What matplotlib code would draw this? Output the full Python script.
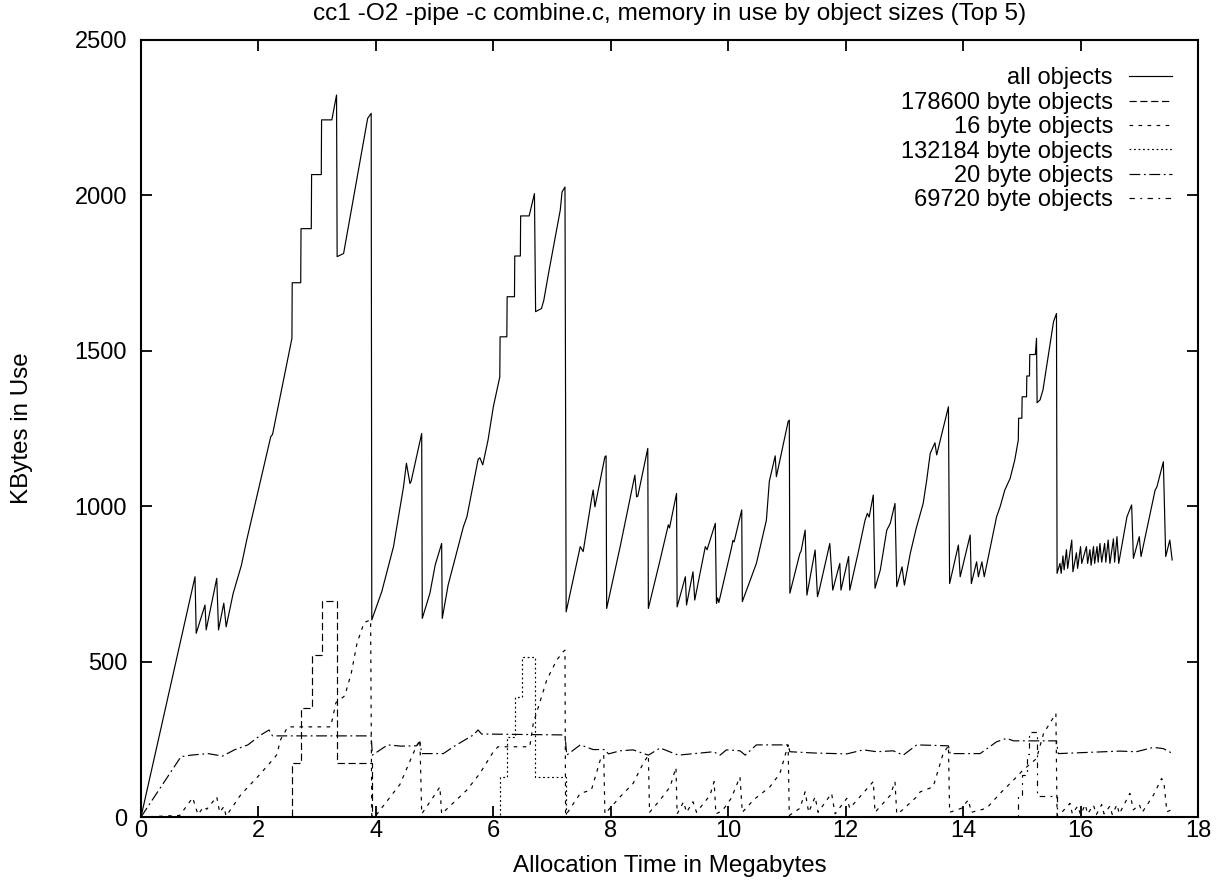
import matplotlib
matplotlib.use('Agg')
import matplotlib.pyplot as plt

plt.rcParams['font.family'] = ['Liberation Sans', 'DejaVu Sans']
plt.rcParams['lines.scale_dashes'] = False

# allocation time (MB) / KBytes in use
all_x = [0, 0.92, 0.94, 1.09, 1.11, 1.29, 1.32, 1.41, 1.45, 1.57, 1.71, 1.80, 2.21, 2.24, 2.57,
         2.575, 2.72, 2.725, 2.90, 2.905, 3.07, 3.075, 3.25, 3.33, 3.34, 3.45, 3.86, 3.92, 3.93,
         4.10, 4.30, 4.47, 4.52, 4.58, 4.60, 4.78, 4.79, 4.92, 5.01, 5.12, 5.13, 5.23, 5.49, 5.55,
         5.74, 5.77, 5.82, 5.91, 6.00, 6.11, 6.115, 6.23, 6.235, 6.36, 6.365, 6.46, 6.465, 6.61,
         6.70, 6.72, 6.82, 6.86, 6.94, 7.14, 7.17, 7.22, 7.24,
         7.48, 7.53, 7.67, 7.70, 7.73, 7.90, 7.92, 7.93, 8.16, 8.30, 8.41, 8.44, 8.46, 8.63, 8.64,
         8.84, 8.98, 9.00, 9.12, 9.13, 9.27, 9.29, 9.40, 9.43, 9.61, 9.64, 9.78, 9.80, 9.82, 9.84,
         10.06, 10.08, 10.10, 10.23, 10.24, 10.48, 10.65, 10.70, 10.80, 10.82, 11.02, 11.04, 11.05,
         11.22, 11.24, 11.31, 11.34, 11.48, 11.52, 11.55, 11.73, 11.78, 11.90, 11.92, 12.05, 12.07,
         12.21, 12.33, 12.37, 12.40, 12.47, 12.50, 12.59, 12.70, 12.76, 12.84, 12.87, 12.96, 13.00,
         13.10, 13.20, 13.32, 13.38, 13.44, 13.52, 13.55, 13.75, 13.77,
         13.92, 13.95, 14.12, 14.14, 14.23, 14.26, 14.32, 14.36, 14.57, 14.63, 14.71, 14.80, 14.88,
         14.94, 14.945, 15.00, 15.005, 15.08, 15.085, 15.13, 15.135, 15.23, 15.25, 15.26, 15.31,
         15.36, 15.54, 15.57, 15.59, 15.60,
         15.65, 15.67, 15.70, 15.72, 15.76, 15.78, 15.85, 15.87, 15.93, 15.95, 16.00, 16.02, 16.10,
         16.12, 16.16, 16.18, 16.22, 16.24, 16.28, 16.30, 16.33, 16.36, 16.41, 16.43, 16.47, 16.50,
         16.56, 16.58, 16.62, 16.65, 16.79, 16.87, 16.90, 17.00, 17.03, 17.15, 17.27, 17.30, 17.41,
         17.45, 17.52, 17.56]
all_y = [0, 773, 591, 682, 602, 768, 602, 688, 612, 720, 810, 891, 1224, 1231, 1540,
         1719, 1719, 1893, 1893, 2067, 2067, 2243, 2243, 2323, 1803, 1813, 2248, 2264, 634,
         725, 870, 1062, 1138, 1073, 1080, 1234, 639, 720, 811, 880, 639, 746, 934, 966,
         1150, 1156, 1133, 1213, 1320, 1416, 1545, 1545, 1674, 1674, 1805, 1805, 1934, 1934,
         2006, 1626, 1636, 1663, 1749, 1953, 2011, 2027, 660,
         870, 854, 1020, 1052, 998, 1159, 1162, 671, 870, 998, 1100, 1030, 1032, 1186, 671,
         827, 940, 930, 1041, 676, 773, 682, 789, 698, 870, 860, 945, 687, 705, 690,
         870, 890, 885, 988, 693, 816, 955, 1080, 1162, 1095, 1272, 1277, 720,
         848, 855, 923, 714, 859, 709, 730, 880, 730, 816, 730, 838, 730,
         848, 955, 977, 965, 1036, 736, 795, 923, 945, 1009, 741, 805, 746,
         848, 928, 1009, 1084, 1170, 1204, 1165, 1320, 751,
         875, 773, 907, 751, 821, 773, 821, 773, 966, 998, 1052, 1089, 1149,
         1213, 1283, 1283, 1352, 1352, 1419, 1419, 1488, 1488, 1540, 1333, 1342,
         1374, 1594, 1609, 1620, 784,
         816, 784, 840, 795, 860, 800, 891, 789, 850, 800, 870, 816, 870,
         816, 860, 810, 870, 816, 870, 820, 880, 820, 880, 820, 891, 816,
         895, 820, 902, 816, 966, 1004, 832, 902, 838, 945, 1052, 1062, 1143,
         838, 891, 827]

b178600_x = [0, 2.57, 2.57, 2.72, 2.72, 2.91, 2.91, 3.08, 3.08, 3.34, 3.34, 3.93, 3.93, 17.56]
b178600_y = [0, 0, 175, 175, 350, 350, 521, 521, 696, 696, 175, 175, 0, 0]

b16_x = [0, 0.66, 0.88, 0.97, 1.07, 1.12, 1.29, 1.34, 1.41, 1.45, 1.70, 1.99, 2.27, 2.31, 2.38,
         2.50, 3.23, 3.32, 3.47, 3.58, 3.68, 3.80, 3.91, 3.93, 4.00, 4.41, 4.66, 4.75, 4.78, 4.98,
         5.09, 5.12, 5.55, 5.77, 6.00, 6.08, 6.62, 6.68, 6.91, 7.08, 7.19, 7.22, 7.23, 7.48, 7.67,
         7.82, 7.88, 7.90, 8.16, 8.38, 8.55, 8.64, 8.66, 8.84, 9.01, 9.11, 9.13, 9.24, 9.29, 9.40,
         9.46, 9.69, 9.76, 9.79, 9.90, 10.05, 10.20, 10.24, 10.43, 10.71, 10.88, 11.02, 11.04,
         11.22, 11.31, 11.37, 11.48, 11.53, 11.76, 11.82, 12.02, 12.07, 12.44, 12.47, 12.50, 12.76,
         12.84, 12.87, 12.95, 13.21, 13.27, 13.49, 13.66, 13.75, 13.77, 13.97, 14.09, 14.14, 14.40,
         14.63, 14.86, 15.02, 15.25, 15.37, 15.51, 15.58, 15.60, 15.69, 15.82, 15.86, 15.95, 16.00,
         16.08, 16.12, 16.22, 16.27, 16.36, 16.40, 16.50, 16.54, 16.62, 16.66, 16.84, 16.90, 17.00,
         17.05, 17.24, 17.38, 17.42, 17.47, 17.55]
b16_y = [0, 5, 62, 8, 33, 25, 65, 15, 33, 3, 72, 130, 190, 200, 250,
         290, 290, 368, 390, 462, 560, 626, 634, 0, 5, 105, 215, 248, 10, 65,
         97, 10, 87, 140, 210, 226, 226, 301, 441, 505, 532, 537, 5, 76, 87,
         183, 199, 10, 65, 108, 172, 199, 15, 55, 97, 159, 10, 49, 15, 49,
         15, 70, 114, 10, 20, 60, 129, 15, 55, 97, 140, 232, 5,
         28, 81, 15, 65, 15, 76, 10, 60, 28, 108, 114, 15, 70,
         114, 10, 20, 65, 81, 97, 204, 229, 15, 28, 55, 15, 28,
         76, 119, 151, 188, 269, 312, 333, 5, 17, 44, 10, 35, 8,
         40, 10, 38, 8, 40, 10, 35, 8, 40, 10, 76, 23, 40,
         15, 70, 124, 110, 17, 23]

b132184_x = [0, 6.11, 6.11, 6.24, 6.24, 6.37, 6.37, 6.48, 6.48, 6.71, 6.71, 7.23, 7.23, 17.56]
b132184_y = [0, 0, 129, 129, 258, 258, 387, 387, 516, 516, 129, 129, 0, 0]

b20_x = [0, 0.34, 0.68, 0.85, 1.14, 1.39, 1.59, 1.82, 2.04, 2.18, 2.24, 3.92, 3.94, 4.20, 4.43,
         4.69, 4.75, 4.78, 5.15, 5.32, 5.66, 5.74, 5.80, 7.22, 7.25, 7.48, 7.70, 7.90, 7.96, 8.16,
         8.38, 8.64, 8.84, 9.15, 9.75, 9.86, 9.97, 10.20, 10.29, 10.48, 11.02, 11.05, 11.45, 12.02,
         12.30, 12.53, 12.81, 12.98, 13.21, 13.75, 13.78, 14.29, 14.57, 14.74, 14.86, 15.59, 15.62,
         16.67, 16.95, 17.24, 17.41, 17.55]
b20_y = [0, 97, 194, 199, 204, 196, 216, 232, 264, 280, 261, 261, 199, 232, 228,
         229, 242, 204, 204, 226, 264, 280, 267, 264, 199, 232, 217, 217, 203, 213,
         216, 199, 222, 199, 210, 199, 216, 213, 199, 232, 232, 210, 206, 203,
         216, 210, 213, 199, 232, 229, 204, 204, 242, 253, 245, 245, 204,
         212, 210, 224, 220, 206]

b69720_x = [0, 14.94, 14.94, 15.01, 15.01, 15.08, 15.08, 15.13, 15.13, 15.25, 15.25, 15.60, 15.60, 17.56]
b69720_y = [0, 0, 68, 68, 136, 136, 204, 204, 272, 272, 68, 68, 0, 0]

x_ticks = [0, 2, 4, 6, 8, 10, 12, 14, 16, 18]
y_ticks = [0, 500, 1000, 1500, 2000, 2500]

fs = 17
lw = 0.85
u = 1.3  # dash unit in points

fig = plt.figure(figsize=(12.21, 8.8), dpi=100)
ax = fig.add_axes([141 / 1221, 63 / 880, 1057 / 1221, 777 / 880])

ax.plot(all_x, all_y, color='black', lw=lw, label='all objects')
ax.plot(b178600_x, b178600_y, color='black', lw=lw, dashes=(4 * u, 2 * u), label='178600 byte objects')
ax.plot(b16_x, b16_y, color='black', lw=lw, dashes=(2 * u, 3 * u), label='16 byte objects')
ax.plot(b132184_x, b132184_y, color='black', lw=lw, dashes=(1 * u, 1.5 * u), label='132184 byte objects')
ax.plot(b20_x, b20_y, color='black', lw=lw, dashes=(6 * u, 2 * u, 1 * u, 2 * u), label='20 byte objects')
ax.plot(b69720_x, b69720_y, color='black', lw=lw, dashes=(3 * u, 3 * u, 1 * u, 3 * u), label='69720 byte objects')

ax.set_xlim(0, 18)
ax.set_ylim(0, 2500)
ax.set_xticks(x_ticks)
ax.set_yticks(y_ticks)
ax.tick_params(direction='in', length=8, width=1.3, labelsize=fs,
               top=True, right=True)
ax.tick_params(axis='x', pad=2)
ax.tick_params(axis='y', pad=10)
for s in ax.spines.values():
    s.set_linewidth(1.5)

leg = ax.legend(loc='upper right', bbox_to_anchor=(0.9754, 0.9647), markerfirst=False,
                frameon=False, fontsize=fs, handlelength=1.82, handletextpad=0.68,
                labelspacing=0.1, borderpad=0, borderaxespad=0)

fig.text(669.5 / 1221, 1 - 14 / 880, 'cc1 -O2 -pipe -c combine.c, memory in use by object sizes (Top 5)',
         ha='center', va='center', fontsize=17.6)
fig.text(669.5 / 1221, 1 - 866 / 880, 'Allocation Time in Megabytes', ha='center', va='center', fontsize=17.4)
fig.text(22 / 1221, 1 - 428 / 880, 'KBytes in Use', ha='center', va='center', rotation=90, fontsize=17.4)

fig.savefig('out.png', dpi=100)
